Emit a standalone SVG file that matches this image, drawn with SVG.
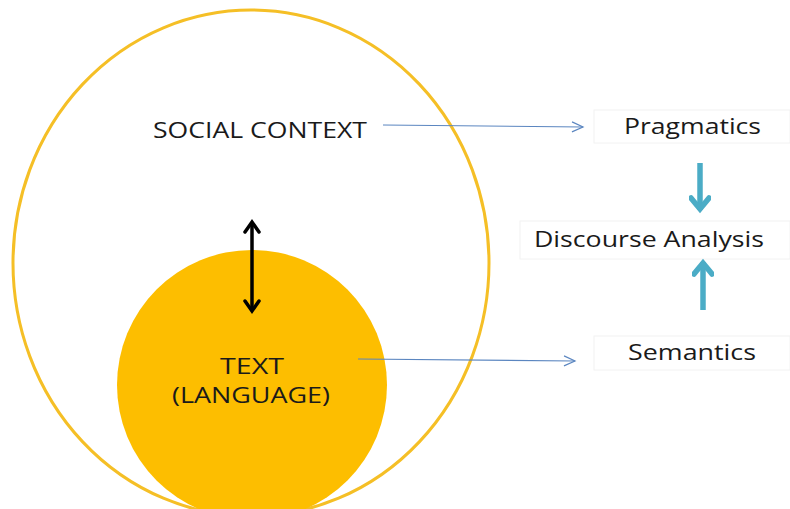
<svg xmlns="http://www.w3.org/2000/svg" width="790" height="509" viewBox="0 0 790 509">
<defs>
<style>
.t{font-family:"Open Sans","Liberation Sans",sans-serif;fill:#1a1a1a;font-size:22px;}
.box{fill:#fff;stroke:#f2f2f2;stroke-width:1;}
.thin{stroke:#5b86c0;stroke-width:1.2;fill:none;}
.teal{stroke:#4bacc6;stroke-width:5.5;fill:none;}
</style>
<marker id="open" markerWidth="14" markerHeight="12" refX="12" refY="6" orient="auto" markerUnits="userSpaceOnUse">
<path d="M1,1 L12,6 L1,11" fill="none" stroke="#5b86c0" stroke-width="1.2"/>
</marker>
<marker id="tealhead" markerWidth="24" markerHeight="22" refX="18" refY="11" orient="auto" markerUnits="userSpaceOnUse">
<path d="M6,2 L17,11 L6,20" fill="none" stroke="#4bacc6" stroke-width="5.5" stroke-linecap="round"/>
</marker>
<marker id="blk" markerWidth="20" markerHeight="18" refX="15" refY="9" orient="auto-start-reverse" markerUnits="userSpaceOnUse">
<path d="M5,2 L15,9 L5,16" fill="none" stroke="#000" stroke-width="3.5" stroke-linecap="round"/>
</marker>
</defs>
<rect width="790" height="509" fill="#fff"/>
<g id="social">
<ellipse cx="251" cy="263" rx="238" ry="253" fill="none" stroke="#f5bf26" stroke-width="3"/>
<text class="t" x="153" y="138" textLength="214" lengthAdjust="spacingAndGlyphs">SOCIAL CONTEXT</text>
</g>
<g id="text-language">
<circle cx="252" cy="385" r="135" fill="#fdbe00"/>
<text class="t" x="220" y="374" textLength="64" lengthAdjust="spacingAndGlyphs">TEXT</text>
<text class="t" x="172" y="403" textLength="158" lengthAdjust="spacingAndGlyphs">(LANGUAGE)</text>
</g>
<g id="pragmatics">
<rect class="box" x="594" y="110" width="196" height="33"/>
<text class="t" x="624" y="134" textLength="137" lengthAdjust="spacingAndGlyphs">Pragmatics</text>
</g>
<g id="discourse">
<rect class="box" x="520" y="221" width="270" height="38"/>
<text class="t" x="534" y="247" textLength="230" lengthAdjust="spacingAndGlyphs">Discourse Analysis</text>
</g>
<g id="semantics">
<rect class="box" x="594" y="336" width="196" height="34"/>
<text class="t" x="628" y="360" textLength="128" lengthAdjust="spacingAndGlyphs">Semantics</text>
</g>
<g id="connectors">
<line class="thin" x1="383" y1="125" x2="583" y2="127" marker-end="url(#open)"/>
<line class="thin" x1="358" y1="359" x2="575" y2="361" marker-end="url(#open)"/>
<line class="teal" x1="700" y1="163" x2="700" y2="210" marker-end="url(#tealhead)"/>
<line class="teal" x1="703" y1="310" x2="703" y2="262" marker-end="url(#tealhead)"/>
<line x1="252" y1="222" x2="252" y2="311" stroke="#000" stroke-width="3.5" marker-start="url(#blk)" marker-end="url(#blk)"/>
</g>
</svg>
